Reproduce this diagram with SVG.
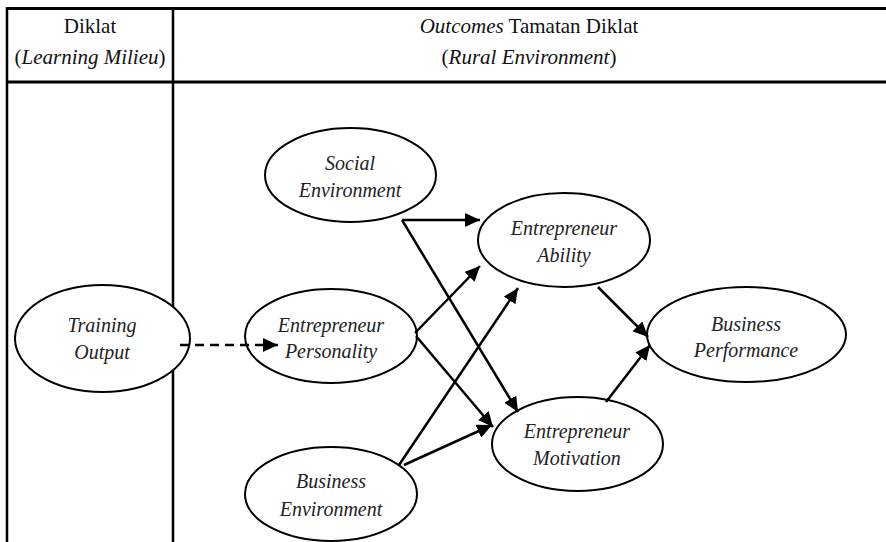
<svg xmlns="http://www.w3.org/2000/svg" width="886" height="542" viewBox="0 0 886 542">
<style>
.hdr{font-family:'Liberation Serif','Times New Roman',serif;font-size:21px;fill:#111;text-anchor:middle}
.it{font-style:italic}
.node ellipse{fill:#fff;stroke:#000;stroke-width:2}
.node text{font-family:'Liberation Serif','Times New Roman',serif;font-style:italic;font-size:20px;fill:#222;text-anchor:middle}
.grid{stroke:#000;stroke-width:2.5;fill:none}
.conn line{stroke:#000;stroke-width:2.5}
.dash{stroke-dasharray:9 6}
</style>
<defs>
<marker id="ah" markerUnits="userSpaceOnUse" markerWidth="16" markerHeight="14" refX="15" refY="7" orient="auto">
<path d="M0,0 L15,7 L0,14 Z" fill="#000"/>
</marker>
</defs>
<rect width="886" height="542" fill="#fff"/>
<g id="table">
<line class="grid" x1="6" y1="8.5" x2="886" y2="8.5" style="stroke-width:3"/>
<line class="grid" x1="6" y1="82" x2="886" y2="82" style="stroke-width:3"/>
<line class="grid" x1="7" y1="7" x2="7" y2="542"/>
<line class="grid" x1="173" y1="7" x2="173" y2="542"/>
<text class="hdr" x="90" y="33">Diklat</text>
<text class="hdr" x="90" y="64">(<tspan class="it">Learning Milieu</tspan>)</text>
<text class="hdr" x="529" y="33"><tspan class="it">Outcomes</tspan> Tamatan Diklat</text>
<text class="hdr" x="529" y="64">(<tspan class="it">Rural Environment</tspan>)</text>
</g>
<g id="training-output" class="node">
<ellipse cx="102.5" cy="338.5" rx="87.5" ry="53.5"/>
<text x="102" y="332">Training</text>
<text x="102" y="359">Output</text>
</g>
<g id="entrepreneur-personality" class="node">
<ellipse cx="331" cy="336" rx="86" ry="47"/>
<text x="331" y="332">Entrepreneur</text>
<text x="331" y="358">Personality</text>
</g>
<g id="social-environment" class="node">
<ellipse cx="350.5" cy="175" rx="85.5" ry="47"/>
<text x="350" y="170">Social</text>
<text x="350" y="197">Environment</text>
</g>
<g id="business-environment" class="node">
<ellipse cx="331" cy="494" rx="86" ry="47"/>
<text x="331" y="488">Business</text>
<text x="331" y="516">Environment</text>
</g>
<g id="entrepreneur-ability" class="node">
<ellipse cx="564" cy="240" rx="86" ry="47"/>
<text x="564" y="235">Entrepreneur</text>
<text x="564" y="262">Ability</text>
</g>
<g id="entrepreneur-motivation" class="node">
<ellipse cx="577.5" cy="444" rx="85.5" ry="47"/>
<text x="577" y="438">Entrepreneur</text>
<text x="577" y="465">Motivation</text>
</g>
<g id="business-performance" class="node">
<ellipse cx="746.5" cy="334.5" rx="99.5" ry="47.5"/>
<text x="746" y="331">Business</text>
<text x="746" y="357">Performance</text>
</g>
<g id="connectors" class="conn">
<line class="dash" x1="180" y1="345" x2="278" y2="345" marker-end="url(#ah)"/>
<line x1="402" y1="220" x2="480" y2="220" marker-end="url(#ah)"/>
<line x1="402" y1="220" x2="518" y2="412" marker-end="url(#ah)"/>
<line x1="415" y1="333" x2="480" y2="266" marker-end="url(#ah)"/>
<line x1="416" y1="336" x2="493" y2="427" marker-end="url(#ah)"/>
<line x1="399" y1="465" x2="518" y2="288" marker-end="url(#ah)"/>
<line x1="404" y1="465" x2="492" y2="425" marker-end="url(#ah)"/>
<line x1="598" y1="287" x2="648" y2="337" marker-end="url(#ah)"/>
<line x1="606" y1="402" x2="650" y2="345" marker-end="url(#ah)"/>
</g>
</svg>
